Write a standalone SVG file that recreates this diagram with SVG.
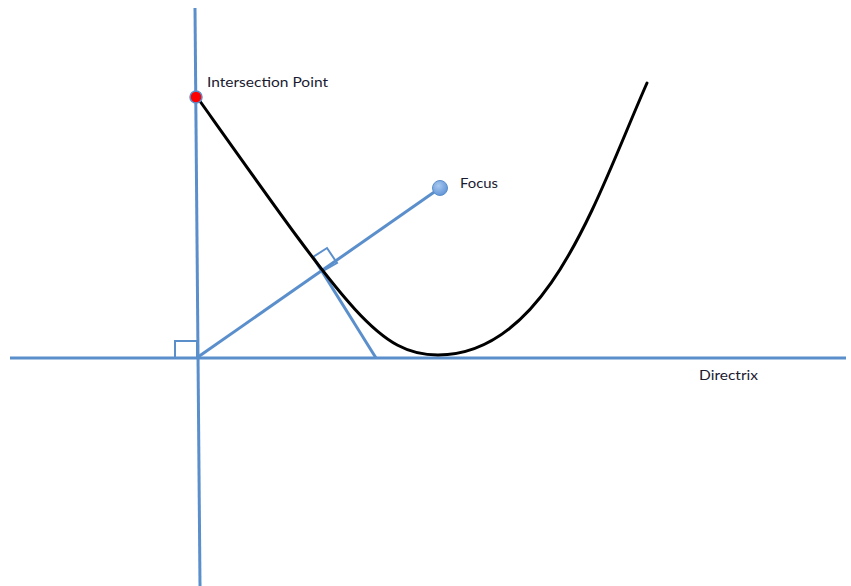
<svg xmlns="http://www.w3.org/2000/svg" width="851" height="586" viewBox="0 0 851 586">
<style>
.ax{stroke:#5b8fcc;stroke-width:3;fill:none;stroke-linecap:butt}
.thin{stroke:#5b8fcc;stroke-width:2;fill:none}
.curve{stroke:#000;stroke-width:3;fill:none;stroke-linecap:round}
.lbl{font-family:Lato,"Open Sans","Liberation Sans",sans-serif;font-size:14px;fill:#1a1a30}
</style>
<defs>
<radialGradient id="fg" cx="0.4" cy="0.35" r="0.7">
<stop offset="0" stop-color="#a9c9f0"/>
<stop offset="1" stop-color="#5d92d6"/>
</radialGradient>
</defs>
<rect width="851" height="586" fill="#fff"/>
<g id="connectors">
<line class="ax" x1="10" y1="358" x2="846" y2="358"/>
<line class="ax" x1="195" y1="8" x2="200" y2="586"/>
<rect class="thin" x="175" y="341" width="22" height="17"/>
<line class="ax" x1="198" y1="357" x2="440" y2="188"/>
<line class="ax" x1="313" y1="257" x2="376" y2="358"/>
<polygon class="thin" points="313,257 327,248 337,263 323,271"/>
<path class="curve" d="M197,97 C347,308 378,355 438,355 C548,355 597,196 647,83"/>
</g>
<g id="intersection-point">
<circle cx="196" cy="97" r="6" fill="#ff0000" stroke="#5b8fcc" stroke-width="1.5"/>
<text class="lbl" x="207" y="87" textLength="121" lengthAdjust="spacingAndGlyphs">Intersection Point</text>
</g>
<g id="focus">
<circle cx="440" cy="188" r="7.5" fill="url(#fg)" stroke="#5b8fcc" stroke-width="1"/>
<text class="lbl" x="460" y="188" textLength="38" lengthAdjust="spacingAndGlyphs">Focus</text>
</g>
<g id="directrix-label">
<text class="lbl" x="699" y="380" textLength="59" lengthAdjust="spacingAndGlyphs">Directrix</text>
</g>
</svg>
